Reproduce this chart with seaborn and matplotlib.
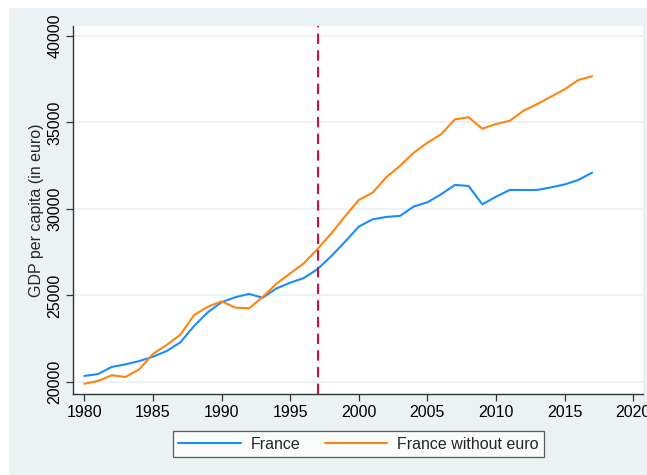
import matplotlib
matplotlib.use("Agg")
import matplotlib.pyplot as plt
import matplotlib.patches as mpatches
import seaborn as sns
import pandas as pd

years = list(range(1980, 2018))
france = [20350, 20460, 20870, 21020, 21210, 21460, 21790, 22290, 23240, 24030,
          24610, 24900, 25090, 24870, 25410, 25740, 26010, 26530, 27280, 28110,
          28980, 29400, 29540, 29600, 30140, 30390, 30850, 31390, 31330, 30270,
          30710, 31100, 31100, 31100, 31250, 31420, 31680, 32100]
france_no_euro = [19900, 20060, 20390, 20290, 20730, 21620, 22140, 22730, 23870, 24350,
                  24660, 24300, 24260, 24910, 25680, 26280, 26860, 27690, 28590, 29580,
                  30520, 30940, 31830, 32490, 33250, 33830, 34320, 35180, 35300, 34640,
                  34910, 35100, 35680, 36070, 36490, 36920, 37460, 37670]
series_names = ["France", "France without euro"]
euro_year = 1997
x_ticks = [1980, 1985, 1990, 1995, 2000, 2005, 2010, 2015, 2020]
y_ticks = [20000, 25000, 30000, 35000, 40000]

df = pd.DataFrame({
    "year": years * 2,
    "gdp": france + france_no_euro,
    "series": [series_names[0]] * len(years) + [series_names[1]] * len(years),
})

sns.set_style("white")
plt.rcParams["font.family"] = ["Liberation Sans", "DejaVu Sans"]

bg = "#eaf2f3"
fs = 11.5
fig = plt.figure(figsize=(6.47, 4.75), dpi=100)
fig.patch.set_facecolor("white")
fig.patches.append(mpatches.Rectangle((9 / 647, 0), 1, 467 / 475, transform=fig.transFigure,
                                      facecolor=bg, edgecolor="none", zorder=-10))

ax = fig.add_axes([0.1133, 0.1705, 0.881, 0.7748])
ax.set_facecolor("white")

for y in y_ticks:
    ax.axhline(y, color=bg, lw=1.3, zorder=0)

sns.lineplot(data=df, x="year", y="gdp", hue="series",
             palette=["#1a8cff", "#ff8410"], linewidth=1.5, ax=ax)
ax.axvline(euro_year, color="#d0103e", lw=1.5, ls=(0, (5, 3)))

ax.set_xlim(1979.2, 2020.73)
ax.set_ylim(19306, 40578)
ax.set_xticks(x_ticks)
ax.set_yticks(y_ticks)
ax.set_yticklabels([str(v) for v in y_ticks], rotation=90, va="center")
ax.tick_params(axis="both", direction="out", length=5, width=0.9, color="#333333",
               labelsize=fs, labelcolor="black", pad=3)
ax.tick_params(axis="y", left=True)
ax.tick_params(axis="x", bottom=True)
ax.set_xlabel("")
ax.set_ylabel("GDP per capita (in euro)", fontsize=fs, labelpad=2)

for side in ["top", "right"]:
    ax.spines[side].set_visible(False)
for side in ["left", "bottom"]:
    ax.spines[side].set_color("#333333")
    ax.spines[side].set_linewidth(1.0)

ax.get_legend().remove()
handles, labels = ax.get_legend_handles_labels()
leg = fig.legend(handles, labels, loc="center", bbox_to_anchor=(0.5538, 0.0646), ncol=2,
                 frameon=True, fancybox=False, fontsize=fs, handlelength=3.9,
                 columnspacing=1.55, borderpad=0.35, handletextpad=0.6)
leg.get_frame().set_edgecolor("#333333")
leg.get_frame().set_linewidth(0.9)

fig.savefig("out.png", dpi=100, facecolor=fig.get_facecolor())
